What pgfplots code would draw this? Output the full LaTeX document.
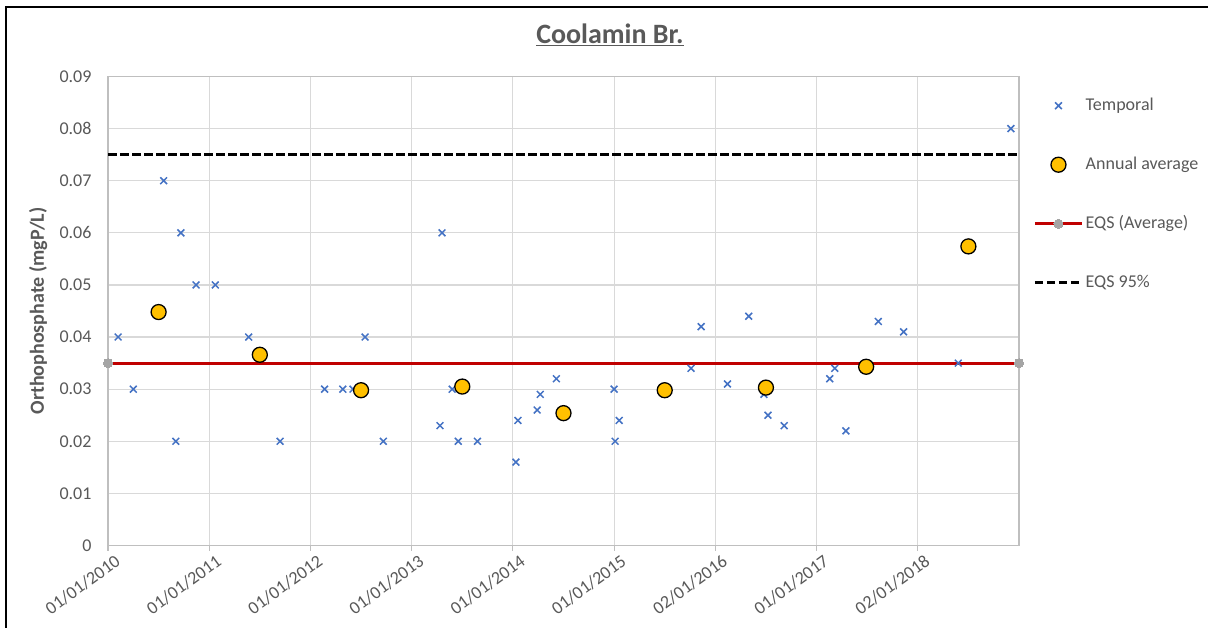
\documentclass[border=0pt]{standalone}
\usepackage{fontspec}
\setmainfont{Carlito}
\usepackage{pgfplots}
\pgfplotsset{compat=1.18}
\definecolor{txt}{HTML}{595959}
\definecolor{tblue}{HTML}{4472C4}
\definecolor{gold}{HTML}{FFC000}
\definecolor{eqsred}{HTML}{C00000}
\definecolor{gridc}{HTML}{D9D9D9}
\definecolor{axc}{HTML}{BFBFBF}
\definecolor{dotg}{HTML}{A5A5A5}
\begin{document}
\begin{tikzpicture}[x=1pt,y=1pt]
\useasboundingbox (0,0) rectangle (1208,-628);
\fill[white] (0,0) rectangle (1208,-628);
\draw[black, line width=2pt] (6,-629) -- (6,-7) -- (1209,-7);
\begin{axis}[
  at={(108pt,-545.5pt)}, anchor=south west,
  scale only axis, width=911pt, height=469pt,
  xmin=2010, xmax=2019, ymin=0, ymax=0.09,
  clip=false,
  scaled ticks=false,
  xtick={2010,2011,2012,2013,2014,2015,2016,2017,2018},
  xticklabels={01/01/2010,01/01/2011,01/01/2012,01/01/2013,01/01/2014,01/01/2015,02/01/2016,01/01/2017,02/01/2018},
  ytick={0,0.01,0.02,0.03,0.04,0.05,0.06,0.07,0.08,0.09},
  yticklabels={0,0.01,0.02,0.03,0.04,0.05,0.06,0.07,0.08,0.09},
  grid=major,
  major grid style={gridc, line width=1.2pt},
  axis line style={axc, line width=1.5pt},
  tick align=outside, tick pos=left,
  major tick length=5pt,
  xtick style={axc, line width=1.2pt},
  ytick style={draw=none},
  tick label style={font=\fontsize{18}{20}\selectfont, text=txt},
  xticklabel style={rotate=36, anchor=north east, inner sep=0pt, yshift=-6pt, xshift=3pt},
  yticklabel style={xshift=-8pt},
  ylabel={\textbf{Orthophosphate (mgP/L)}},
  ylabel style={font=\fontsize{20}{22}\selectfont, text=txt, at={(axis description cs:-0.0768,0.5)}, anchor=center},
  title={\textbf{\underline{Coolamin Br.}}},
  title style={font=\fontsize{28}{30}\selectfont, text=txt, at={(axis description cs:0.551,1.0757)}, anchor=center},
  legend image code/.code={\draw[mark repeat=2,mark phase=2,#1] plot coordinates {(0pt,0pt)(23.5pt,0pt)(47pt,0pt)};},
  legend style={at={(axis description cs:1.0154,0.9584)}, anchor=north west, draw=none, fill=none,
    inner sep=0pt, row sep=40pt, column sep=1pt,
    font=\fontsize{18}{20}\selectfont, text=txt,
    nodes={inner sep=1pt, text height=13pt, text depth=4pt}},
  legend cell align=left,
]
\addplot[eqsred, line width=3.2pt, mark=*, mark size=4.5pt, mark options={fill=dotg, draw=dotg, line width=0pt}, forget plot]
  coordinates {(2010,0.035)(2019,0.035)};
\addplot[black, line width=3.5pt, dash pattern=on 8.5pt off 3.5pt, forget plot]
  coordinates {(2010,0.075)(2019,0.075)};
\addplot[only marks, mark=x, mark size=4.8pt, mark options={tblue, line width=1.5pt}]
  coordinates {
(2010.10,0.04)(2010.25,0.03)(2010.55,0.07)(2010.67,0.02)(2010.72,0.06)
(2010.87,0.05)(2011.06,0.05)(2011.39,0.04)(2011.70,0.02)(2012.14,0.03)
(2012.32,0.03)(2012.42,0.03)(2012.54,0.04)(2012.72,0.02)(2013.28,0.023)
(2013.30,0.06)(2013.40,0.03)(2013.46,0.02)(2013.65,0.02)(2014.03,0.016)
(2014.05,0.024)(2014.24,0.026)(2014.27,0.029)(2014.43,0.032)(2015.00,0.03)
(2015.01,0.02)(2015.05,0.024)(2015.76,0.034)(2015.86,0.042)(2016.12,0.031)
(2016.33,0.044)(2016.48,0.029)(2016.52,0.025)(2016.68,0.023)(2017.13,0.032)
(2017.18,0.034)(2017.29,0.022)(2017.61,0.043)(2017.86,0.041)(2018.40,0.035)
(2018.92,0.08)};
\addlegendentry{Temporal}
\addplot[only marks, mark=*, mark size=7.5pt, mark options={fill=gold, draw=black, line width=1.3pt}]
  coordinates {(2010.50,0.0448)(2011.50,0.0366)(2012.50,0.0298)(2013.50,0.0305)(2014.50,0.0254)
(2015.50,0.0298)(2016.50,0.0303)(2017.49,0.0343)(2018.50,0.0574)};
\addlegendentry{Annual average}
\addlegendimage{eqsred, line width=3.2pt, mark=*, mark size=4.5pt, mark options={fill=dotg, draw=dotg, line width=0pt}}
\addlegendentry{EQS (Average)}
\addlegendimage{black, line width=3.5pt, dash pattern=on 8.5pt off 3.5pt}
\addlegendentry{EQS 95\%}
\end{axis}
\end{tikzpicture}
\end{document}
